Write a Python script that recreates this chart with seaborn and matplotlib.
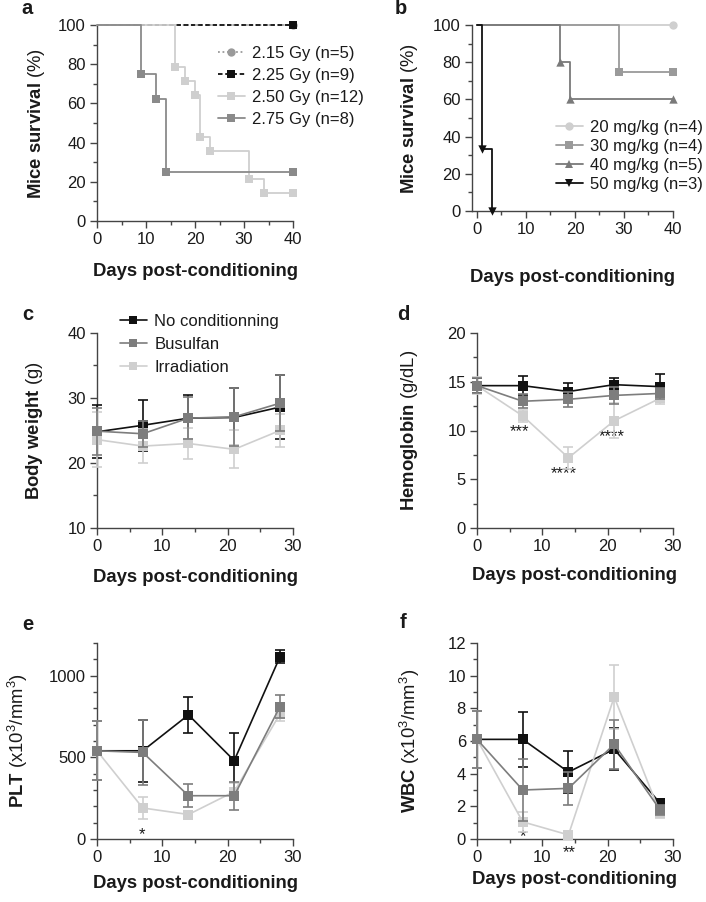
import matplotlib
matplotlib.use("Agg")
import matplotlib.pyplot as plt
from matplotlib.lines import Line2D
from matplotlib.ticker import MultipleLocator
import seaborn as sns

# ---------------- data ----------------
# a: survival after irradiation (Kaplan-Meier steps)
irr_labels = ["2.15 Gy (n=5)", "2.25 Gy (n=9)", "2.50 Gy (n=12)", "2.75 Gy (n=8)"]
irr_days = [[0, 40], [0, 40], [0, 16, 18, 20, 21, 23, 31, 34, 40], [0, 9, 12, 14, 40]]
irr_surv = [[100, 100], [100, 100],
            [100, 78.6, 71.4, 64.3, 42.9, 35.7, 21.4, 14.3, 14.3],
            [100, 75, 62.5, 25, 25]]

# b: survival after busulfan
bu_labels = ["20 mg/kg (n=4)", "30 mg/kg (n=4)", "40 mg/kg (n=5)", "50 mg/kg (n=3)"]
bu_days = [[0, 40], [0, 29, 40], [0, 17, 19, 40], [0, 1, 3]]
bu_surv = [[100, 100], [100, 75, 75], [100, 80, 60, 60], [100, 33.3, 0]]

# c-f: follow-up, mean and SD per group
days = [0, 7, 14, 21, 28]
groups = ["No conditionning", "Busulfan", "Irradiation"]

bw_ctrl = [24.8, 25.8, 26.9, 27.0, 28.6]
bw_ctrl_sd = [4.1, 3.9, 3.6, 4.5, 4.9]
bw_busu = [24.9, 24.5, 26.9, 27.1, 29.2]
bw_busu_sd = [3.6, 2.0, 3.2, 4.5, 4.3]
bw_irr = [23.6, 22.6, 23.0, 22.1, 25.0]
bw_irr_sd = [4.2, 2.6, 2.4, 2.9, 2.6]

hb_ctrl = [14.6, 14.6, 14.0, 14.7, 14.5]
hb_ctrl_sd = [0.8, 1.0, 0.9, 0.7, 1.3]
hb_busu = [14.6, 13.0, 13.2, 13.6, 13.8]
hb_busu_sd = [0.8, 0.7, 0.8, 0.9, 0.6]
hb_irr = [14.6, 11.5, 7.2, 11.0, 13.3]
hb_irr_sd = [0.9, 0.6, 1.1, 1.8, 0.6]

plt_ctrl = [540, 540, 760, 480, 1115]
plt_ctrl_sd = [180, 190, 110, 170, 40]
plt_busu = [540, 530, 265, 265, 810]
plt_busu_sd = [180, 200, 70, 85, 70]
plt_irr = [540, 190, 150, 290, 765]
plt_irr_sd = [180, 70, 10, 50, 40]

wbc_ctrl = [6.1, 6.1, 4.1, 5.5, 2.2]
wbc_ctrl_sd = [1.75, 1.7, 1.3, 1.3, 0.2]
wbc_busu = [6.1, 3.0, 3.1, 5.8, 1.8]
wbc_busu_sd = [1.75, 1.9, 1.0, 1.5, 0.3]
wbc_irr = [6.1, 1.05, 0.25, 8.7, 1.6]
wbc_irr_sd = [1.75, 0.6, 0.05, 1.95, 0.3]

# significance marks (x, y, text)
hb_stars = [(6.5, 9.9, "***"), (13.3, 5.6, "****"), (20.6, 9.4, "****")]
plt_stars = [(6.9, 27, "*")]
wbc_stars = [(7.0, 0.15, "*"), (14.1, -0.85, "**")]

# ---------------- style ----------------
sns.set_theme(style="ticks")
plt.rcParams["font.family"] = ["Liberation Sans", "DejaVu Sans"]
plt.rcParams["mathtext.fontset"] = "custom"
plt.rcParams["mathtext.rm"] = "Liberation Sans"
plt.rcParams["mathtext.bf"] = "Liberation Sans:bold"
plt.rcParams["mathtext.it"] = "Liberation Sans:italic"

AX_COL = "#444444"
TXT_COL = "#1a1a1a"
BLACK, MID, LIGHT = "#111111", "#7d7d7d", "#cfcfcf"
group_cols = [BLACK, MID, LIGHT]
TICK_FS, LAB_FS, LEG_FS = 12, 13.3, 12

W, H = 706, 902
fig = plt.figure(figsize=(W / 100, H / 100), dpi=100)


def add_axes(left, top, right, bottom):
    return fig.add_axes([left / W, 1 - bottom / H, (right - left) / W, (bottom - top) / H])


def style_axes(ax, box, xlim, ylim, xstep, ystep, ylabel, ylab_cx, xlab_cy):
    left, top, right, bottom = box
    sns.despine(ax=ax)
    for s in ["left", "bottom"]:
        ax.spines[s].set_color(AX_COL)
        ax.spines[s].set_linewidth(1.0)
    ax.set_xlim(*xlim)
    ax.set_ylim(*ylim)
    ax.xaxis.set_major_locator(MultipleLocator(xstep[0]))
    ax.xaxis.set_minor_locator(MultipleLocator(xstep[1]))
    ax.yaxis.set_major_locator(MultipleLocator(ystep[0]))
    ax.yaxis.set_minor_locator(MultipleLocator(ystep[1]))
    ax.tick_params(which="major", length=5, width=1, color=AX_COL,
                   labelsize=TICK_FS, labelcolor=TXT_COL, pad=3)
    ax.tick_params(which="minor", length=3, width=1, color=AX_COL)
    ax.set_xlabel("Days post-conditioning", fontsize=LAB_FS, fontweight="bold",
                  color=TXT_COL, va="center")
    ax.xaxis.set_label_coords(0.5, -(xlab_cy - bottom) / (bottom - top))
    ax.set_ylabel(ylabel, fontsize=LAB_FS, color=TXT_COL, va="center")
    ax.yaxis.set_label_coords((ylab_cx - left) / (right - left), 0.5)
    ax.grid(False)


def km_curve(ax, x, y, col, dash, marker, z):
    line_kw = dict(dashes=dash) if dash else dict(linestyle="-")
    sns.lineplot(x=x, y=y, ax=ax, color=col, linewidth=1.3, drawstyle="steps-post",
                 errorbar=None, zorder=z, clip_on=False, **line_kw)
    sns.scatterplot(x=x[1:], y=y[1:], ax=ax, color=col, marker=marker, s=36,
                    linewidth=0, zorder=z + 0.5, clip_on=False)


def follow_up(ax, series, sds):
    order = [0, 2, 1]
    for i in order:
        z = 3 + order.index(i)
        ax.errorbar(days, series[i], yerr=sds[i], fmt="none", ecolor=group_cols[i],
                    elinewidth=1.2, capsize=3.6, capthick=1.2, zorder=z, clip_on=False)
        sns.lineplot(x=days, y=series[i], ax=ax, color=group_cols[i], linewidth=1.2,
                     marker="s", markersize=6.5, markeredgewidth=0, errorbar=None,
                     zorder=z + 0.5, clip_on=False)


def stars(ax, marks):
    for x, y, t in marks:
        ax.text(x, y, t, fontsize=12, ha="center", va="center", color=TXT_COL,
                clip_on=False)


def legend(ax, handles, labels, x, y, spacing):
    ax.legend(handles, labels, loc="upper left", bbox_to_anchor=(x / W, 1 - y / H),
              bbox_transform=fig.transFigure, frameon=False, borderpad=0,
              borderaxespad=0, handlelength=1.6, handletextpad=0.45,
              labelspacing=spacing, fontsize=LEG_FS, labelcolor=TXT_COL)


# ---------------- a ----------------
box_a = (97, 25, 293, 221)
ax = add_axes(*box_a)
a_cols = ["#9a9a9a", BLACK, LIGHT, "#8a8a8a"]
a_dash = [(1, 1.5), (2.5, 1.5), None, None]
a_mk = ["o", "s", "s", "s"]
for i in [3, 2, 0, 1]:
    km_curve(ax, irr_days[i], irr_surv[i], a_cols[i], a_dash[i], a_mk[i], 3 + i)
style_axes(ax, box_a, (0, 40), (0, 100), (10, 5), (20, 10),
           r"$\mathbf{Mice\ survival}$ (%)", 37, 272)
handles = [Line2D([], [], color=a_cols[i], marker=a_mk[i], markersize=6,
                  markeredgewidth=0, lw=1.3,
                  **(dict(dashes=a_dash[i]) if a_dash[i] else {})) for i in range(4)]
legend(ax, handles, irr_labels, 218, 46, 0.42)

# ---------------- b ----------------
box_b = (472, 25, 673, 211)
ax = add_axes(*box_b)
b_cols = [LIGHT, "#9a9a9a", "#7a7a7a", BLACK]
b_mk = ["o", "s", "^", "v"]
for i in [3, 2, 1, 0]:
    km_curve(ax, bu_days[i], bu_surv[i], b_cols[i], None, b_mk[i], 3 + i)
style_axes(ax, box_b, (-1, 40), (0, 100), (10, 5), (20, 10),
           r"$\mathbf{Mice\ survival}$ (%)", 409, 278)
ax.set_xticks([0, 10, 20, 30, 40])
handles = [Line2D([], [], color=b_cols[i], marker=b_mk[i], markersize=6,
                  markeredgewidth=0, lw=1.3) for i in range(4)]
legend(ax, handles, bu_labels, 556, 120, 0.24)

# ---------------- c ----------------
box_c = (97, 333, 293, 528)
ax = add_axes(*box_c)
follow_up(ax, [bw_ctrl, bw_busu, bw_irr], [bw_ctrl_sd, bw_busu_sd, bw_irr_sd])
style_axes(ax, box_c, (0, 30), (10, 40), (10, 5), (10, 5),
           r"$\mathbf{Body\ weight}$ (g)", 35, 578)
handles = [Line2D([], [], color=c, marker="s", markersize=6, markeredgewidth=0, lw=1.2)
           for c in group_cols]
legend(ax, handles, groups, 120, 314, 0.48)

# ---------------- d ----------------
box_d = (477, 333, 673, 528)
ax = add_axes(*box_d)
follow_up(ax, [hb_ctrl, hb_busu, hb_irr], [hb_ctrl_sd, hb_busu_sd, hb_irr_sd])
style_axes(ax, box_d, (0, 30), (0, 20), (10, 5), (5, 2.5),
           r"$\mathbf{Hemoglobin}$ (g/dL)", 410, 575)
stars(ax, hb_stars)

# ---------------- e ----------------
box_e = (97, 643, 293, 839)
ax = add_axes(*box_e)
follow_up(ax, [plt_ctrl, plt_busu, plt_irr], [plt_ctrl_sd, plt_busu_sd, plt_irr_sd])
style_axes(ax, box_e, (0, 30), (0, 1200), (10, 5), (500, 100),
           r"$\mathbf{PLT}$ (x10$^3$/mm$^3$)", 18, 883)
stars(ax, plt_stars)

# ---------------- f ----------------
box_f = (477, 643, 673, 839)
ax = add_axes(*box_f)
follow_up(ax, [wbc_ctrl, wbc_busu, wbc_irr], [wbc_ctrl_sd, wbc_busu_sd, wbc_irr_sd])
style_axes(ax, box_f, (0, 30), (0, 12), (10, 5), (2, 1),
           r"$\mathbf{WBC}$ (x10$^3$/mm$^3$)", 410, 880)
stars(ax, wbc_stars)

# panel letters
for letter, (px, py) in zip("abcdef", [(27, 9), (401, 9), (28, 315), (403, 315),
                                        (28, 625), (403, 623)]):
    fig.text(px / W, 1 - py / H, letter, fontsize=14.5, fontweight="bold",
             ha="center", va="center", color=TXT_COL)

fig.savefig("out.png", dpi=100)
